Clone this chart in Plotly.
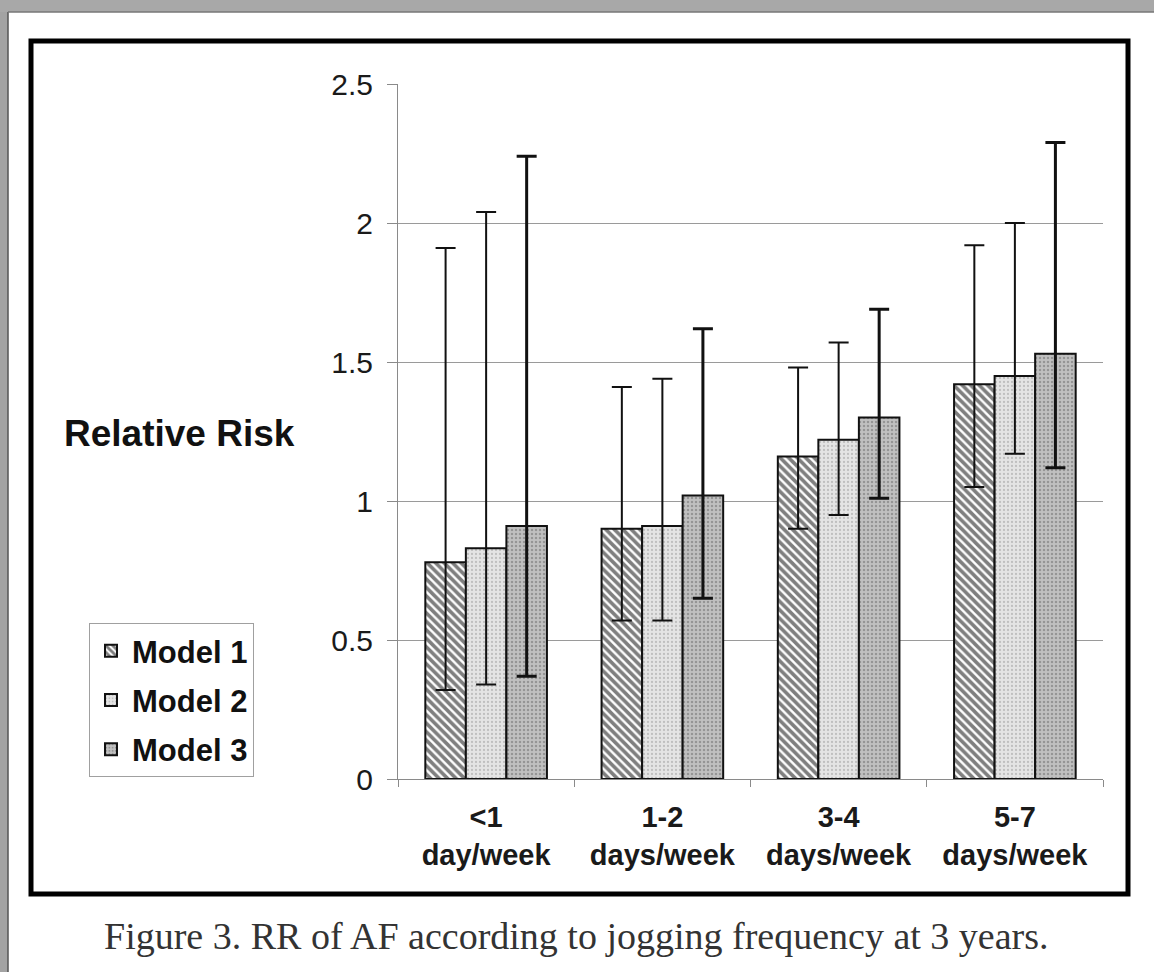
import plotly.graph_objects as go

# ---- data ----
categories = ["<1", "1-2", "3-4", "5-7"]
tick_labels = ["<b>&lt;1</b><br><b>day/week</b>", "<b>1-2</b><br><b>days/week</b>",
               "<b>3-4</b><br><b>days/week</b>", "<b>5-7</b><br><b>days/week</b>"]
series_names = ["Model 1", "Model 2", "Model 3"]
model1 = [0.78, 0.90, 1.16, 1.42]
model1_lo = [0.32, 0.57, 0.90, 1.05]
model1_hi = [1.91, 1.41, 1.48, 1.92]
model2 = [0.83, 0.91, 1.22, 1.45]
model2_lo = [0.34, 0.57, 0.95, 1.17]
model2_hi = [2.04, 1.44, 1.57, 2.00]
model3 = [0.91, 1.02, 1.30, 1.53]
model3_lo = [0.37, 0.65, 1.01, 1.12]
model3_hi = [2.24, 1.62, 1.69, 2.29]
y_ticks = [0, 0.5, 1, 1.5, 2, 2.5]

# ---- layout geometry (page pixels) ----
W, H = 1154, 972
L, R, T, B = 398, 1103, 84, 779


def px(x):
    return (x - L) / (R - L)


def py(y):
    return (B - y) / (B - T)


styles = [
    dict(shape="\\", fgcolor="#000000", bgcolor="#ffffff", size=6, solidity=0.6),
    dict(shape=".", fgcolor="#9a9a9a", bgcolor="#e4e4e4", size=4, solidity=0.25),
    dict(shape=".", fgcolor="#6a6a6a", bgcolor="#c0c0c0", size=4, solidity=0.3),
]
err_w = [2, 2, 3]

fig = go.Figure()
for i, (name, vals, lo, hi) in enumerate(zip(
        series_names, [model1, model2, model3],
        [model1_lo, model2_lo, model3_lo], [model1_hi, model2_hi, model3_hi])):
    fig.add_trace(go.Bar(
        x=categories, y=vals, name="<b>" + name + "</b>", legendgroup=name,
        marker=dict(color=styles[i]["bgcolor"], pattern=styles[i],
                    line=dict(color="#111111", width=2)),
        error_y=dict(type="data", symmetric=False,
                     array=[h - v for h, v in zip(hi, vals)],
                     arrayminus=[v - l for v, l in zip(vals, lo)],
                     color="#111111", thickness=err_w[i], width=10),
    ))

fig.update_layout(
    width=W, height=H, autosize=False,
    margin=dict(l=L, r=W - R, t=T, b=H - B, pad=0),
    paper_bgcolor="white", plot_bgcolor="white",
    barmode="group", bargap=0.31, bargroupgap=0,
    font=dict(family="Liberation Sans, Arial, sans-serif", color="#1a1a1a"),
    legend=dict(x=px(89), y=py(623), xanchor="left", yanchor="top",
                bgcolor="white", bordercolor="#a0a0a0", borderwidth=1,
                font=dict(size=31, family="Liberation Sans, Arial, sans-serif", color="#111"),
                tracegroupgap=6, itemwidth=32),
    showlegend=True,
)
fig.update_xaxes(
    type="category", categoryorder="array", categoryarray=categories,
    tickvals=categories, ticktext=tick_labels,
    tickfont=dict(size=29, color="#1a1a1a"),
    showline=True, linecolor="#8a8a8a", linewidth=1,
    ticks="outside", tickson="boundaries", ticklen=7, tickcolor="#8a8a8a",
    showgrid=False, ticklabelstandoff=12,
)
fig.update_yaxes(
    range=[0, 2.5], tickvals=y_ticks,
    tickfont=dict(size=30, color="#1a1a1a"),
    showline=True, linecolor="#8a8a8a", linewidth=1,
    ticks="outside", ticklen=10, tickcolor="#8a8a8a",
    showgrid=True, gridcolor="#9a9a9a", gridwidth=1,
    zeroline=False, ticklabelstandoff=8,
)

shapes = [
    # page border strips (scanned page edge)
    dict(type="rect", xref="paper", yref="paper", x0=px(0), x1=px(8), y0=py(H), y1=py(0),
         fillcolor="#a3a3a3", line=dict(width=0), layer="below"),
    dict(type="rect", xref="paper", yref="paper", x0=px(0), x1=px(W), y0=py(12), y1=py(0),
         fillcolor="#a8a8a8", line=dict(width=0), layer="below"),
    dict(type="line", xref="paper", yref="paper", x0=px(8), x1=px(8), y0=py(H), y1=py(12),
         line=dict(color="#555555", width=1.5)),
    dict(type="line", xref="paper", yref="paper", x0=px(8), x1=px(W), y0=py(12), y1=py(12),
         line=dict(color="#777777", width=1.5)),
    # chart frame
    dict(type="rect", xref="paper", yref="paper", x0=px(31), x1=px(1128), y0=py(894), y1=py(41),
         line=dict(color="#000000", width=5), fillcolor="rgba(0,0,0,0)"),
]
fig.update_layout(shapes=shapes)

fig.add_annotation(text="<b>Relative Risk</b>", xref="paper", yref="paper",
                   x=px(179), y=py(433), showarrow=False, xanchor="center", yanchor="middle",
                   font=dict(size=37, family="Liberation Sans, Arial, sans-serif", color="#111"))
fig.add_annotation(text="Figure 3. RR of AF according to jogging frequency at 3 years.",
                   xref="paper", yref="paper", x=px(576), y=py(936), showarrow=False,
                   xanchor="center", yanchor="middle",
                   font=dict(size=38, family="Liberation Serif, Times New Roman, serif", color="#333"))

fig.write_html("out.html", config={"displayModeBar": False},
               post_script="document.body.style.margin='0';")
